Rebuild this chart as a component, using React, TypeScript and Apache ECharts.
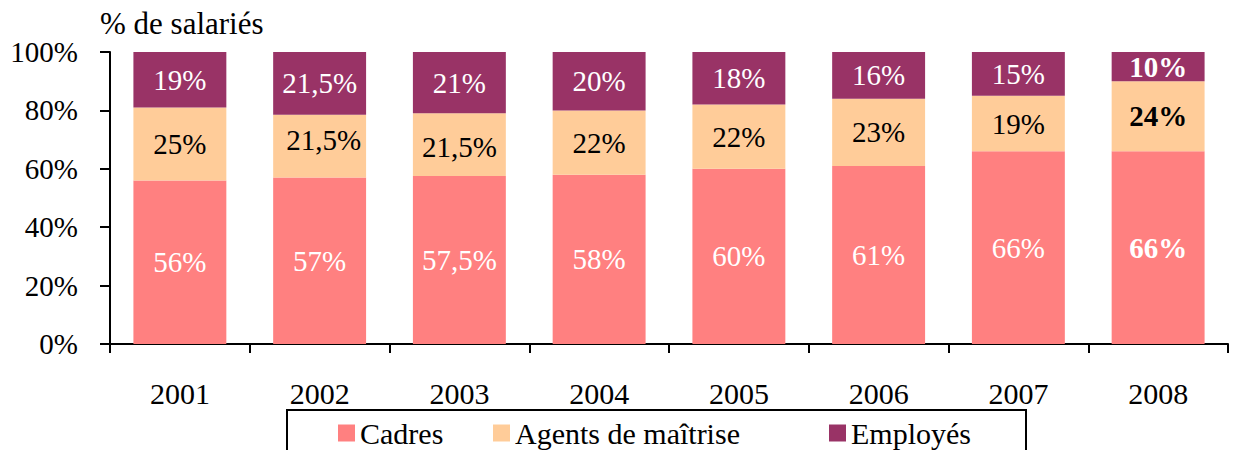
import React, { useEffect, useRef } from "react";
import * as echarts from "echarts";

const categories = ["2001", "2002", "2003", "2004", "2005", "2006", "2007", "2008"];
const cadres = [56, 57, 57.5, 58, 60, 61, 66, 66];
const agents = [25, 21.5, 21.5, 22, 22, 23, 19, 24];
const employes = [19, 21.5, 21, 20, 18, 16, 15, 10];
const yTicks = [0, 20, 40, 60, 80, 100];

const FONT = "Liberation Serif, Times New Roman, serif";
const FS = 29;

const fmt = (v: number) => String(v).replace(".", ",") + "%";

function makeData(values: number[], offsets: Record<number, number[]> = {}) {
  return values.map((v, i) => {
    const label: any = {};
    if (i === values.length - 1) label.fontWeight = "bold";
    if (offsets[i]) label.offset = offsets[i];
    return Object.keys(label).length ? { value: v, label } : { value: v };
  });
}

export default function App() {
  const ref = useRef<HTMLDivElement>(null);
  useEffect(() => {
    if (!ref.current) return;
    const chart = echarts.init(ref.current, undefined, { renderer: "svg" });
    const baseLabel = (color: string) => ({
      show: true,
      position: "inside" as const,
      color,
      fontFamily: FONT,
      fontSize: FS,
      formatter: (p: any) => fmt(p.value),
    });
    const legendCommon = {
      orient: "horizontal" as const,
      top: 418,
      padding: 0,
      itemWidth: 17,
      itemHeight: 17,
      itemGap: 6,
      icon: "rect",
      selectedMode: false,
      textStyle: { fontFamily: FONT, fontSize: 30, color: "#000", padding: [0, 0, 0, 0] },
    };
    chart.setOption({
      animation: false,
      backgroundColor: "#fff",
      title: {
        text: "% de salariés",
        left: 100,
        top: 8,
        padding: 0,
        textStyle: { fontFamily: FONT, fontSize: 31, fontWeight: "normal", color: "#000" },
      },
      grid: { left: 110, right: 6, top: 52, bottom: 106 },
      legend: [
        { ...legendCommon, left: 338, data: ["Cadres"] },
        { ...legendCommon, left: 493, data: ["Agents de maîtrise"] },
        { ...legendCommon, left: 829, data: ["Employés"] },
      ],
      graphic: [
        {
          type: "rect",
          shape: { x: 287, y: 410, width: 739, height: 60 },
          style: { fill: "none", stroke: "#000", lineWidth: 2 },
          silent: true,
        },
      ],
      xAxis: {
        type: "category",
        data: categories,
        boundaryGap: true,
        axisLine: { lineStyle: { color: "#000", width: 2 } },
        axisTick: { show: true, length: 9, lineStyle: { color: "#000", width: 2 } },
        axisLabel: { margin: 34, color: "#000", fontFamily: FONT, fontSize: 30 },
        splitLine: { show: false },
      },
      yAxis: {
        type: "value",
        min: yTicks[0],
        max: yTicks[yTicks.length - 1],
        interval: 20,
        axisLine: { show: true, lineStyle: { color: "#000", width: 2 } },
        axisTick: { show: true, length: 10, lineStyle: { color: "#000", width: 2 } },
        axisLabel: {
          margin: 32,
          color: "#000",
          fontFamily: FONT,
          fontSize: FS,
          formatter: (v: number) => v + "%",
        },
        splitLine: { show: false },
      },
      series: [
        {
          name: "Cadres",
          type: "bar",
          stack: "total",
          barCategoryGap: "33.5%",
          itemStyle: { color: "#FF8080" },
          label: baseLabel("#fff"),
          data: makeData(cadres),
        },
        {
          name: "Agents de maîtrise",
          type: "bar",
          stack: "total",
          itemStyle: { color: "#FFCC99" },
          label: baseLabel("#000"),
          data: makeData(agents, { 1: [4, -6], 2: [0, 2] }),
        },
        {
          name: "Employés",
          type: "bar",
          stack: "total",
          itemStyle: { color: "#993366" },
          label: baseLabel("#fff"),
          data: makeData(employes),
        },
      ],
    });
    return () => chart.dispose();
  }, []);
  return (
    <div
      ref={ref}
      style={{ position: "fixed", left: 0, top: 0, width: 1234, height: 450 }}
    />
  );
}
